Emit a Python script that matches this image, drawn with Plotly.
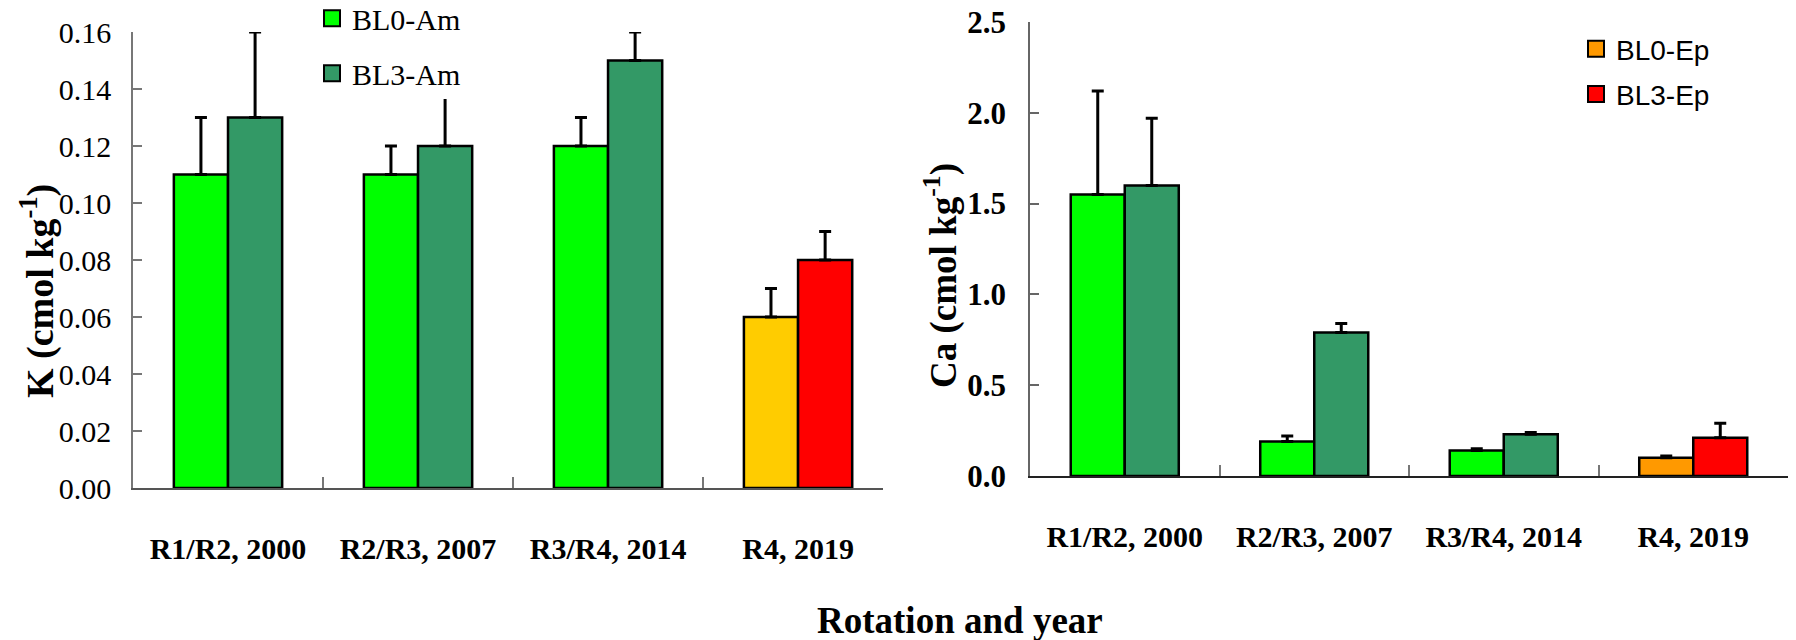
import plotly.graph_objects as go

categories = ["R1/R2, 2000", "R2/R3, 2007", "R3/R4, 2014", "R4, 2019"]

K_BL0 = [0.11, 0.11, 0.12, 0.06]
K_BL0_err = [0.02, 0.01, 0.01, 0.01]
K_BL3 = [0.13, 0.12, 0.15, 0.08]
K_BL3_err = [0.03, 0.02, 0.01, 0.01]

Ca_BL0 = [1.55, 0.19, 0.14, 0.10]
Ca_BL0_err = [0.57, 0.03, 0.01, 0.01]
Ca_BL3 = [1.60, 0.79, 0.23, 0.21]
Ca_BL3_err = [0.37, 0.05, 0.01, 0.08]

K_ticks = [0.00, 0.02, 0.04, 0.06, 0.08, 0.10, 0.12, 0.14, 0.16]
Ca_ticks = [0.0, 0.5, 1.0, 1.5, 2.0, 2.5]

am_idx = slice(0, 3)
ep_idx = slice(3, 4)

C_BL0_AM = "#00FF00"
C_BL3_AM = "#339966"
C_BL0_EP_K = "#FFCC00"
C_BL0_EP_CA = "#FF9900"
C_BL3_EP = "#FF0000"

SERIF = "Liberation Serif"
SANS = "Liberation Sans"

fig = go.Figure()

def add_bar(x, y, err, color, name, group, xa, ya):
    fig.add_trace(go.Bar(
        x=x, y=y, name=name, offsetgroup=group,
        marker=dict(color=color, line=dict(color="black", width=2.5)),
        error_y=dict(type="data", array=err, arrayminus=[0] * len(err), symmetric=False,
                     color="black", thickness=3, width=6),
        xaxis=xa, yaxis=ya, showlegend=False,
    ))

def add_legend_key(name, color, xa, ya, legend):
    # legend-only key (no data points) so the swatch can be sized like the reference
    fig.add_trace(go.Scatter(
        x=[None], y=[None], mode="markers", name=name, legend=legend, legendgroup=name + xa,
        marker=dict(symbol="square", size=16, color=color, line=dict(color="black", width=2)),
        xaxis=xa, yaxis=ya, showlegend=True, hoverinfo="skip",
    ))

# Left panel (K)
add_bar(categories[am_idx], K_BL0[am_idx], K_BL0_err[am_idx], C_BL0_AM, "BL0-Am", "a", "x", "y")
add_bar(categories[am_idx], K_BL3[am_idx], K_BL3_err[am_idx], C_BL3_AM, "BL3-Am", "b", "x", "y")
add_bar(categories[ep_idx], K_BL0[ep_idx], K_BL0_err[ep_idx], C_BL0_EP_K, "BL0-Ep", "a", "x", "y")
add_bar(categories[ep_idx], K_BL3[ep_idx], K_BL3_err[ep_idx], C_BL3_EP, "BL3-Ep", "b", "x", "y")

# Right panel (Ca)
add_bar(categories[am_idx], Ca_BL0[am_idx], Ca_BL0_err[am_idx], C_BL0_AM, "BL0-Am", "a", "x2", "y2")
add_bar(categories[am_idx], Ca_BL3[am_idx], Ca_BL3_err[am_idx], C_BL3_AM, "BL3-Am", "b", "x2", "y2")
add_bar(categories[ep_idx], Ca_BL0[ep_idx], Ca_BL0_err[ep_idx], C_BL0_EP_CA, "BL0-Ep", "a", "x2", "y2")
add_bar(categories[ep_idx], Ca_BL3[ep_idx], Ca_BL3_err[ep_idx], C_BL3_EP, "BL3-Ep", "b", "x2", "y2")

add_legend_key("BL0-Am", C_BL0_AM, "x", "y", "legend")
add_legend_key("BL3-Am", C_BL3_AM, "x", "y", "legend")
add_legend_key("BL0-Ep", C_BL0_EP_CA, "x2", "y2", "legend2")
add_legend_key("BL3-Ep", C_BL3_EP, "x2", "y2", "legend2")

W, H = 1796, 640

def px_x(p):
    return p / W

def px_y(p):
    return (H - p) / H

xcommon = dict(
    type="category", categoryorder="array", categoryarray=categories,
    showline=True, linecolor="#555555", linewidth=1.5,
    ticks="inside", tickson="boundaries", ticklen=11, tickcolor="#777777", tickwidth=1.5,
    showgrid=False, zeroline=False, automargin=False,
    tickfont=dict(family=SERIF, size=30, color="black", weight="bold"),
    ticklabelstandoff=33,
)

fig.update_layout(
    template="none",
    width=W, height=H,
    margin=dict(l=0, r=0, t=0, b=0, pad=0, autoexpand=False),
    paper_bgcolor="white", plot_bgcolor="white",
    barmode="group", bargap=0.43, bargroupgap=0,
    xaxis=dict(xcommon, domain=[px_x(133), px_x(883)], range=[-0.5, 3.447], anchor="y"),
    yaxis=dict(
        domain=[px_y(488), px_y(32)], range=[0, 0.16], anchor="x",
        tickvals=K_ticks, tickformat=".2f",
        showline=True, linecolor="#777777", linewidth=1.5,
        ticks="inside", ticklen=9, tickcolor="#777777", tickwidth=1.5,
        showgrid=False, zeroline=False, automargin=False,
        tickfont=dict(family=SERIF, size=30, color="black"),
        ticklabelstandoff=14,
    ),
    xaxis2=dict(xcommon, domain=[px_x(1030), px_x(1788)], range=[-0.5, 3.5], anchor="y2",
                linecolor="#222222"),
    yaxis2=dict(
        domain=[px_y(476), px_y(22)], range=[0, 2.5], anchor="x2",
        tickvals=Ca_ticks, tickformat=".1f",
        showline=True, linecolor="#666666", linewidth=1.5,
        ticks="inside", ticklen=9, tickcolor="#666666", tickwidth=1.5,
        showgrid=False, zeroline=False, automargin=False,
        tickfont=dict(family=SERIF, size=31, color="black", weight="bold"),
        ticklabelstandoff=16,
    ),
    legend=dict(
        x=px_x(312), y=1.012, xanchor="left", yanchor="top",
        bgcolor="white", borderwidth=0,
        font=dict(family=SERIF, size=30, color="black"),
        tracegroupgap=13, itemwidth=30, itemsizing="trace",
    ),
    legend2=dict(
        x=px_x(1576), y=px_y(24), xanchor="left", yanchor="top",
        bgcolor="white", borderwidth=0,
        font=dict(family=SANS, size=28, color="black"),
        tracegroupgap=6, itemwidth=30, itemsizing="trace",
    ),
    annotations=[
        dict(text="K (cmol kg<sup>-1</sup>)", textangle=-90, x=px_x(37), y=px_y(291),
             xref="paper", yref="paper", showarrow=False, xanchor="center", yanchor="middle",
             font=dict(family=SERIF, size=38, color="black", weight="bold")),
        dict(text="Ca (cmol kg<sup>-1</sup>)", textangle=-90, x=px_x(941), y=px_y(276),
             xref="paper", yref="paper", showarrow=False, xanchor="center", yanchor="middle",
             font=dict(family=SERIF, size=37, color="black", weight="bold")),
        dict(text="Rotation and year", x=px_x(960), y=px_y(620),
             xref="paper", yref="paper", showarrow=False, xanchor="center", yanchor="middle",
             font=dict(family=SERIF, size=37, color="black", weight="bold")),
    ],
)

fig.write_html("out.html", config={"displayModeBar": False},
               post_script="document.body.style.margin='0';")
